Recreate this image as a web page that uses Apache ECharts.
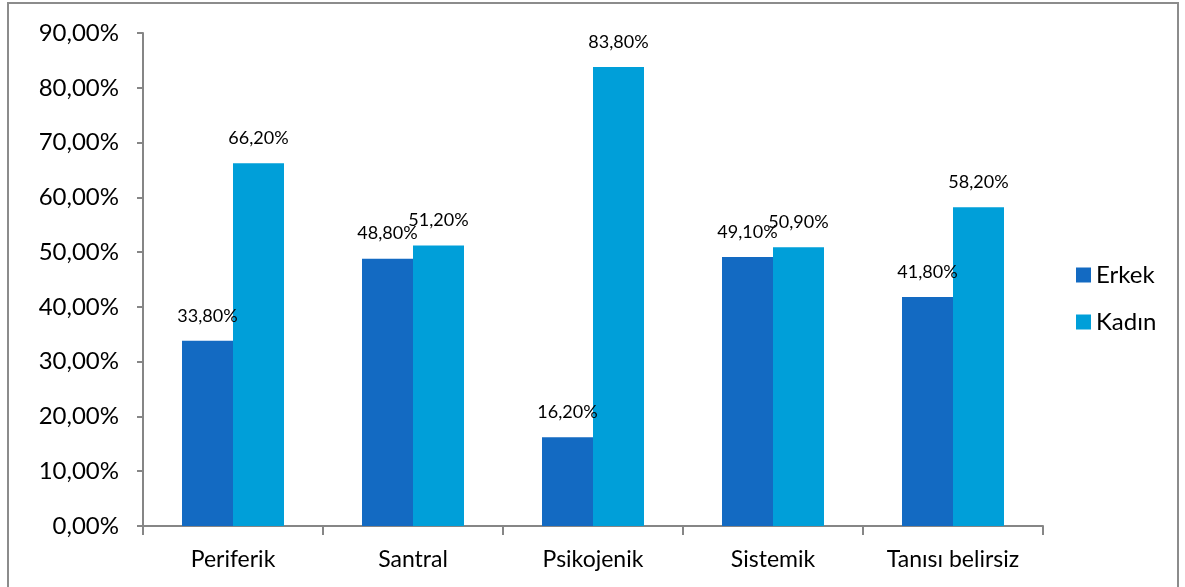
<!DOCTYPE html>
<html>
<head>
<meta charset="utf-8">
<script src="https://cdn.jsdelivr.net/npm/echarts@6/dist/echarts.min.js"></script>
<style>
  html, body { margin: 0; padding: 0; background: #fff; }
  #chart { width: 1185px; height: 587px; }
</style>
</head>
<body>
<div id="chart"></div>
<script>
// Diagnosis categories and share by sex (percent)
const categories = ['Periferik', 'Santral', 'Psikojenik', 'Sistemik', 'Tanısı belirsiz'];
const erkek = [33.8, 48.8, 16.2, 49.1, 41.8];
const kadin = [66.2, 51.2, 83.8, 50.9, 58.2];
const seriesNames = ['Erkek', 'Kadın'];

const fmt = v => v.toFixed(2).replace('.', ',') + '%';
const FONT = 'Lato, "Open Sans", sans-serif';

const barLabel = {
  show: true, position: 'top', distance: 16, fontSize: 18,
  color: '#000', fontFamily: FONT, formatter: p => fmt(p.value)
};

const chart = echarts.init(document.getElementById('chart'));
chart.setOption({
  animation: false,
  backgroundColor: '#fff',
  textStyle: { fontFamily: FONT },
  graphic: [{
    type: 'rect',
    shape: { x: 8, y: 3, width: 1170, height: 600 },
    style: { fill: 'none', stroke: '#8c8c8c', lineWidth: 2 },
    silent: true
  }],
  grid: { left: 143, right: 142, top: 33, bottom: 61, containLabel: false },
  legend: {
    orient: 'vertical',
    left: 1071,
    top: 258,
    itemWidth: 15,
    itemHeight: 15,
    itemGap: 23,
    icon: 'rect',
    textStyle: { fontSize: 24, color: '#000', fontFamily: FONT },
    data: seriesNames
  },
  xAxis: {
    type: 'category',
    data: categories,
    axisLine: { lineStyle: { color: '#868686', width: 2 } },
    axisTick: { show: true, length: 9, alignWithLabel: false, lineStyle: { color: '#868686', width: 2 } },
    axisLabel: { fontSize: 23, color: '#000', margin: 22, fontFamily: FONT }
  },
  yAxis: {
    type: 'value',
    min: 0,
    max: 90,
    interval: 10,
    splitLine: { show: false },
    axisLine: { show: true, lineStyle: { color: '#868686', width: 2 } },
    axisTick: { show: true, length: 6, lineStyle: { color: '#868686', width: 2 } },
    axisLabel: { fontSize: 24, color: '#000', margin: 24, fontFamily: FONT, formatter: v => fmt(v) }
  },
  series: [
    {
      name: seriesNames[0],
      type: 'bar',
      data: erkek,
      barWidth: 51,
      barGap: '0%',
      itemStyle: { color: '#136AC2' },
      label: barLabel
    },
    {
      name: seriesNames[1],
      type: 'bar',
      data: kadin,
      barWidth: 51,
      barGap: '0%',
      itemStyle: { color: '#009FD9' },
      label: barLabel
    }
  ]
});
</script>
</body>
</html>
